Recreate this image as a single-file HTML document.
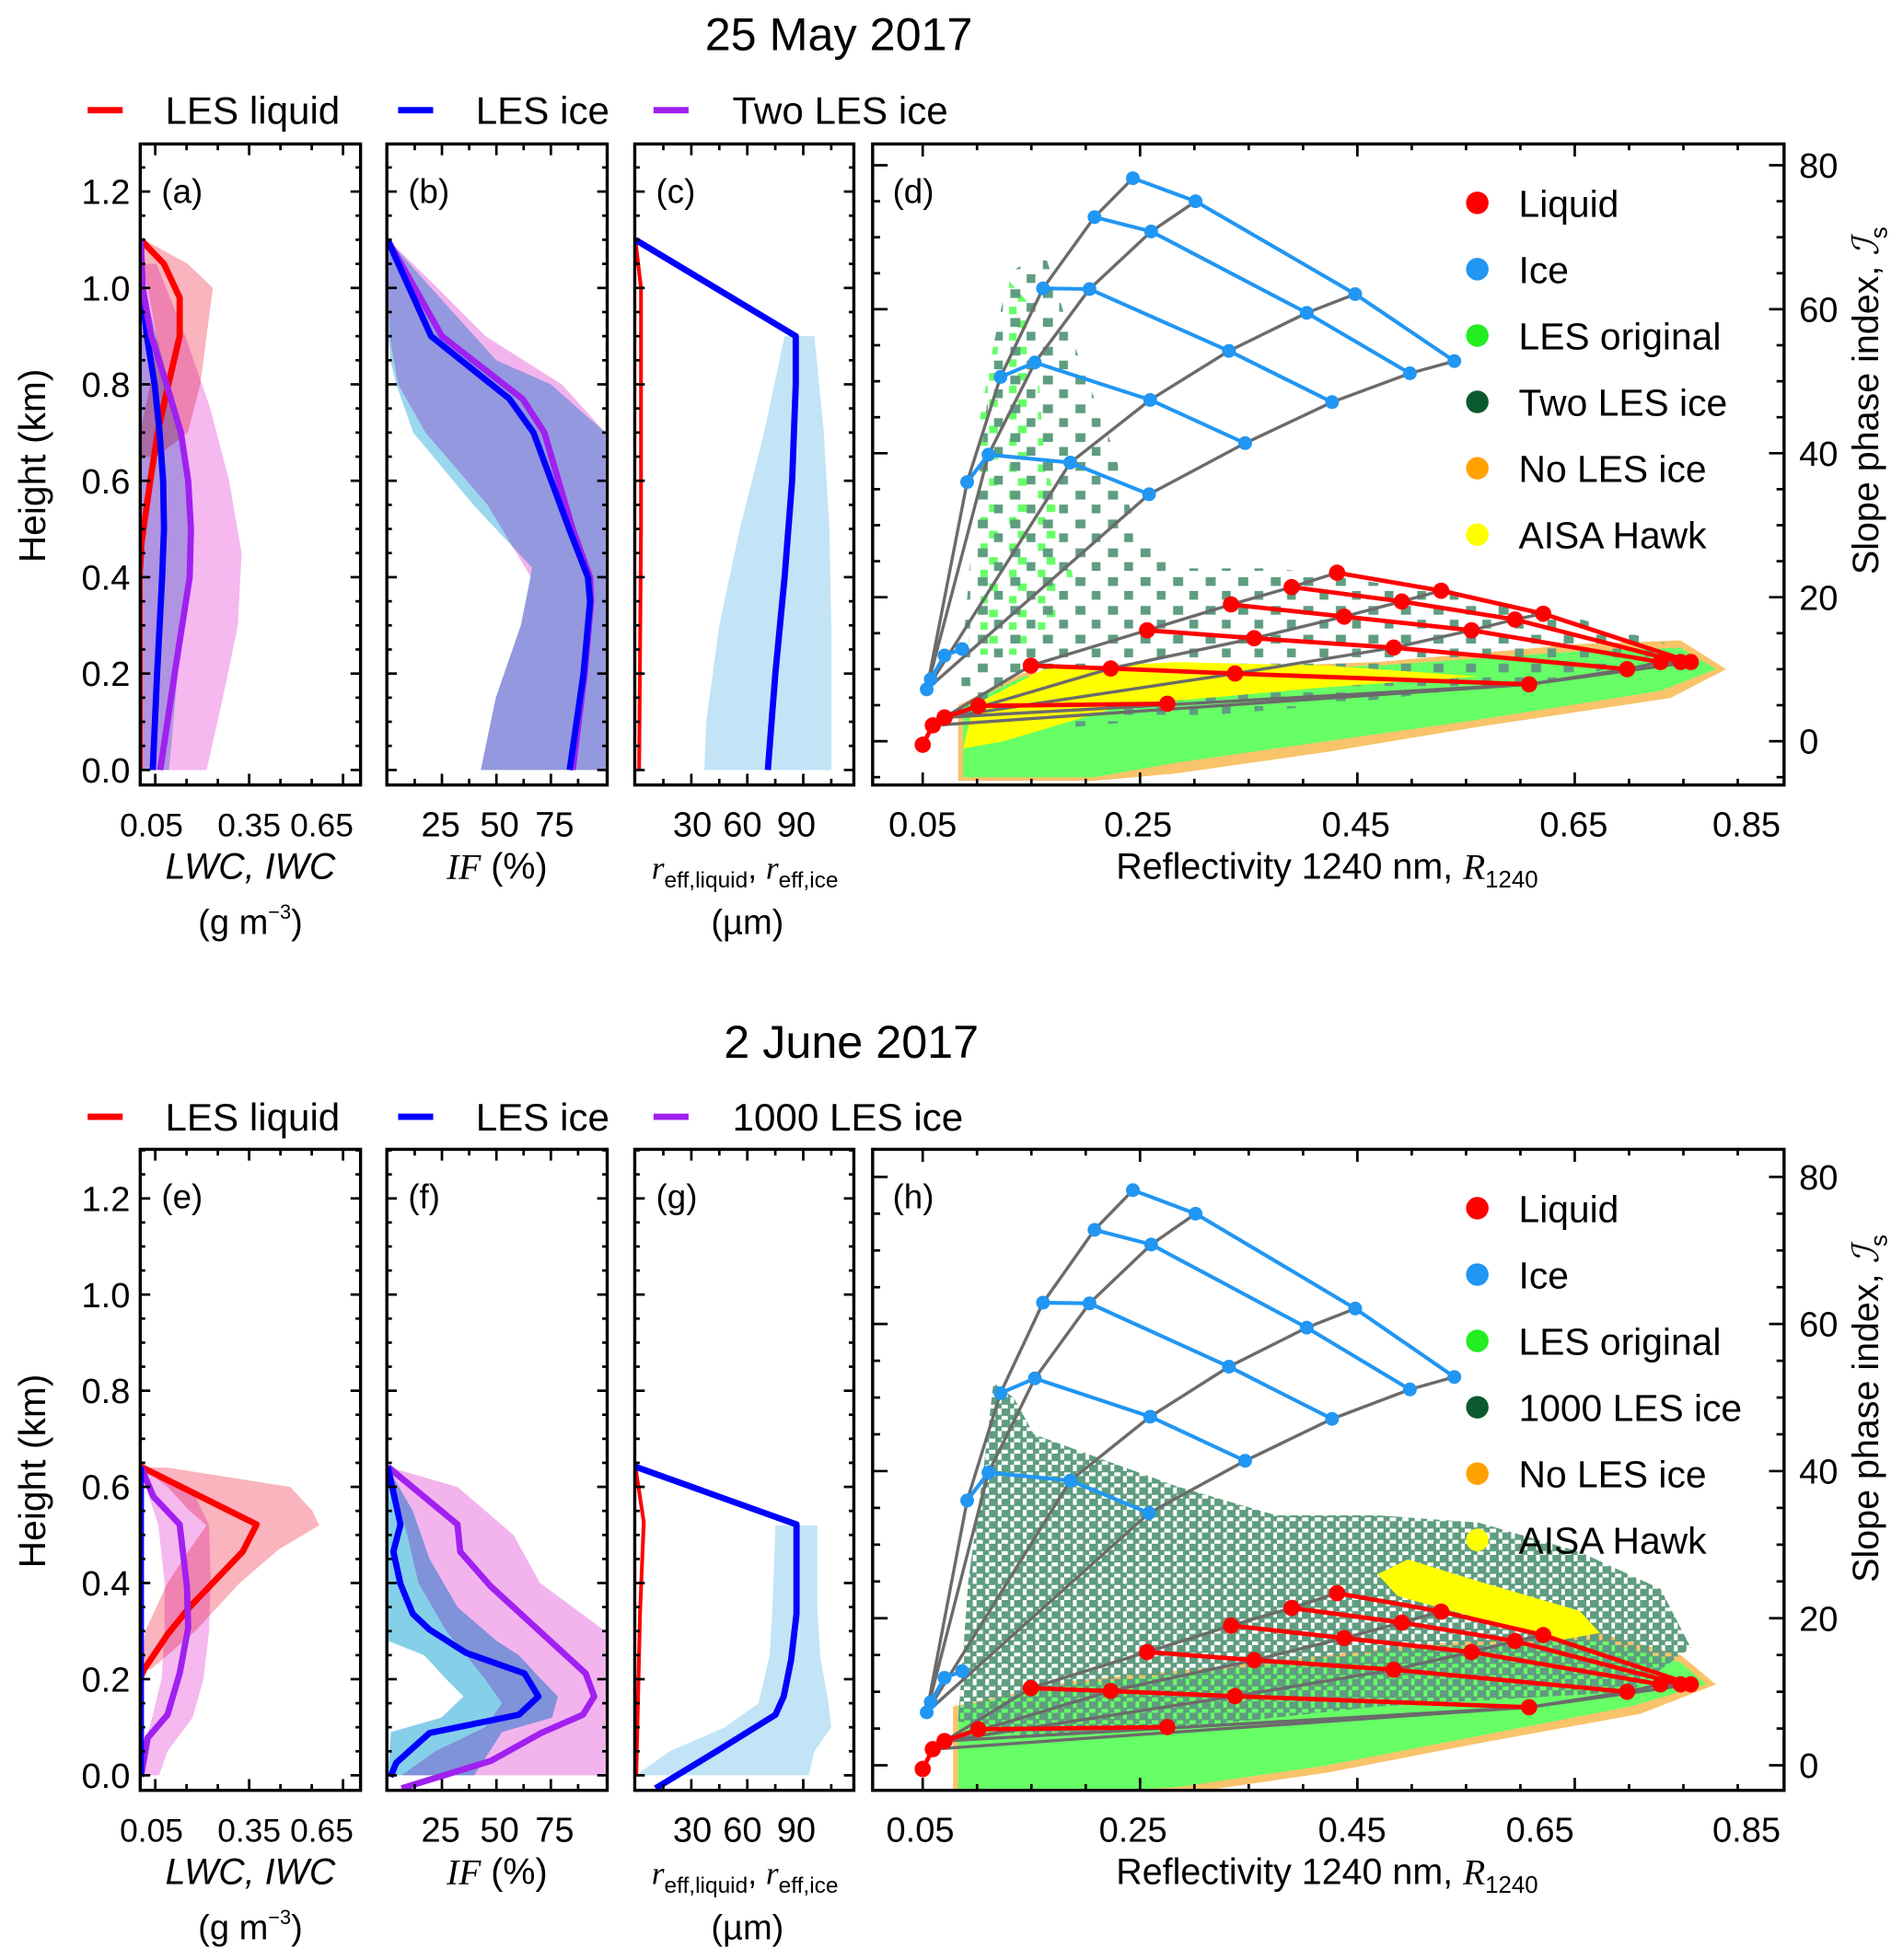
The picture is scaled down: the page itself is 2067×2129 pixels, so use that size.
<!DOCTYPE html>
<html><head><meta charset="utf-8"><title>25 May 2017 / 2 June 2017 profiles and slope phase index</title>
<style>
html,body{margin:0;padding:0;background:#fff;}
svg{display:block;}
text{font-family:"Liberation Sans",Arial,sans-serif;fill:#000;}
.band{mix-blend-mode:multiply;}
</style></head>
<body>
<svg id="chart" xmlns="http://www.w3.org/2000/svg" width="2067" height="2129" viewBox="0 0 1520 1565.5" preserveAspectRatio="none">
<defs>
<pattern id="pDark" width="26" height="23" patternUnits="userSpaceOnUse">
<rect x="1" y="1" width="8" height="7" fill="#5f9d80"/><rect x="14" y="12" width="7" height="7" fill="#5f9d80"/>
</pattern>
<pattern id="pDense" width="10" height="9" patternUnits="userSpaceOnUse">
<rect x="0" y="0" width="7" height="6" fill="#5f9d80"/><rect x="5" y="5" width="5" height="4" fill="#5f9d80"/>
</pattern>
<pattern id="pLight" width="23" height="21" patternUnits="userSpaceOnUse">
<rect x="8" y="4" width="7" height="6" fill="#66ff66"/><rect x="1" y="14" width="6" height="6" fill="#66ff66"/>
</pattern>
</defs>
<rect x="0" y="0" width="1520" height="1565.5" fill="#fff"/>

<text x="670" y="40" font-size="37" text-anchor="middle">25 May 2017</text>
<text x="680" y="845" font-size="37" text-anchor="middle">2 June 2017</text>

<g>
<line x1="70" y1="88" x2="98" y2="88" stroke="#ff0000" stroke-width="5"/>
<text x="132" y="99" font-size="31">LES liquid</text>
<line x1="318" y1="88" x2="346" y2="88" stroke="#0000ff" stroke-width="5"/>
<text x="380" y="99" font-size="31">LES ice</text>
<line x1="522" y1="88" x2="550" y2="88" stroke="#a020f0" stroke-width="5"/>
<text x="585" y="99" font-size="31">Two LES ice</text>
</g>
<g>
<line x1="70" y1="892" x2="98" y2="892" stroke="#ff0000" stroke-width="5"/>
<text x="132" y="903" font-size="31">LES liquid</text>
<line x1="318" y1="892" x2="346" y2="892" stroke="#0000ff" stroke-width="5"/>
<text x="380" y="903" font-size="31">LES ice</text>
<line x1="522" y1="892" x2="550" y2="892" stroke="#a020f0" stroke-width="5"/>
<text x="585" y="903" font-size="31">1000 LES ice</text>
</g>

<g id="plots"></g>

<text transform="translate(36,372) rotate(-90)" font-size="30" text-anchor="middle">Height (km)</text>
<text transform="translate(36,1175) rotate(-90)" font-size="30" text-anchor="middle">Height (km)</text>
<text transform="translate(1500,320) rotate(-90)" font-size="29" text-anchor="middle">Slope phase index, <tspan font-style="italic" font-family="DejaVu Serif, serif">ℐ</tspan><tspan font-size="19" dy="7">s</tspan></text>
<text transform="translate(1500,1125) rotate(-90)" font-size="29" text-anchor="middle">Slope phase index, <tspan font-style="italic" font-family="DejaVu Serif, serif">ℐ</tspan><tspan font-size="19" dy="7">s</tspan></text>

<g>
<text x="200" y="702" font-size="29" text-anchor="middle" font-style="italic" font-family="Liberation Serif, serif">LWC, IWC</text>
<text x="200" y="746" font-size="28" text-anchor="middle">(g m<tspan font-size="16" dy="-12">−3</tspan><tspan dy="12">)</tspan></text>
<text x="397" y="702" font-size="29" text-anchor="middle"><tspan font-style="italic" font-family="Liberation Serif, serif">IF</tspan> (%)</text>
<text x="595" y="702" font-size="26" text-anchor="middle"><tspan font-style="italic" font-family="Liberation Serif, serif">r</tspan><tspan font-size="18" dy="7">eff,liquid</tspan><tspan dy="-7">, </tspan><tspan font-style="italic" font-family="Liberation Serif, serif">r</tspan><tspan font-size="18" dy="7">eff,ice</tspan></text>
<text x="597" y="746" font-size="28" text-anchor="middle">(µm)</text>
<text x="1060" y="702" font-size="29" text-anchor="middle">Reflectivity 1240 nm, <tspan font-style="italic" font-family="Liberation Serif, serif">R</tspan><tspan font-size="19" dy="7">1240</tspan></text>
</g>
<g>
<text x="200" y="1505" font-size="29" text-anchor="middle" font-style="italic" font-family="Liberation Serif, serif">LWC, IWC</text>
<text x="200" y="1549" font-size="28" text-anchor="middle">(g m<tspan font-size="16" dy="-12">−3</tspan><tspan dy="12">)</tspan></text>
<text x="397" y="1505" font-size="29" text-anchor="middle"><tspan font-style="italic" font-family="Liberation Serif, serif">IF</tspan> (%)</text>
<text x="595" y="1505" font-size="26" text-anchor="middle"><tspan font-style="italic" font-family="Liberation Serif, serif">r</tspan><tspan font-size="18" dy="7">eff,liquid</tspan><tspan dy="-7">, </tspan><tspan font-style="italic" font-family="Liberation Serif, serif">r</tspan><tspan font-size="18" dy="7">eff,ice</tspan></text>
<text x="597" y="1549" font-size="28" text-anchor="middle">(µm)</text>
<text x="1060" y="1505" font-size="29" text-anchor="middle">Reflectivity 1240 nm, <tspan font-style="italic" font-family="Liberation Serif, serif">R</tspan><tspan font-size="19" dy="7">1240</tspan></text>
</g>
</svg>

<script>
// ===== Data: height profiles (25 May 2017) =====
const aLiqH = [1.1, 1.05, 0.98, 0.9, 0.8, 0.7, 0.6, 0.47, 0.4, 0.0];
const aLiqV = [0.004, 0.078, 0.128, 0.128, 0.092, 0.058, 0.034, 0.006, 0.0, 0.0];
const aIceH = [1.1, 1.0, 0.9, 0.8, 0.7, 0.6, 0.5, 0.4, 0.2, 0.0];
const aIceV = [0.004, 0.006, 0.023, 0.048, 0.064, 0.075, 0.078, 0.072, 0.056, 0.042];
const aTwoV = [0.004, 0.01, 0.037, 0.086, 0.132, 0.155, 0.164, 0.16, 0.112, 0.066];
const aPinkH = [1.05, 0.9, 0.75, 0.6, 0.45, 0.3, 0.15, 0.0];
const aPinkLo = [0.004, 0.004, 0.004, 0.004, 0.004, 0.004, 0.004, 0.004];
const aPinkHi = [0.054, 0.146, 0.226, 0.286, 0.326, 0.314, 0.266, 0.214];
const aRedH = [1.1, 1.05, 1.0, 0.9, 0.8, 0.7, 0.65];
const aRedLo = [0.002, 0.002, 0.026, 0.054, 0.034, 0.002, 0.002];
const aRedHi = [0.014, 0.154, 0.234, 0.214, 0.194, 0.154, 0.054];
const aBlueH = [1.0, 0.8, 0.6, 0.4, 0.2, 0.0];
const aBlueLo = [0.004, 0.004, 0.004, 0.004, 0.004, 0.004];
const aBlueHi = [0.014, 0.094, 0.154, 0.154, 0.122, 0.094];

const bIceH = [1.1, 0.9, 0.77, 0.7, 0.5, 0.4, 0.35, 0.2, 0.0];
const bIceV = [0, 20, 56, 67, 83.4, 92, 93, 90, 83.6];
const bTwoV = [0, 25, 62, 72, 85, 93, 93.5, 90.5, 85];
const bPinkH = [1.1, 1.0, 0.9, 0.8, 0.7, 0.55, 0.4, 0.3, 0.15, 0.0];
const bPinkLo = [0.3, 0.3, 0.9, 4.9, 17.5, 46, 65.8, 61.2, 49.7, 42.8];
const bPinkHi = [0.3, 23, 45, 80, 100, 100, 100, 100, 100, 100];
const bCyanH = [1.1, 1.0, 0.9, 0.85, 0.8, 0.7, 0.55, 0.42, 0.3, 0.15, 0.0];
const bCyanLo = [0.3, 0.3, 0.3, 1.4, 4, 11.8, 39.4, 66.4, 61.2, 49.7, 42.8];
const bCyanHi = [0.3, 20, 40, 50, 75, 100, 100, 100, 100, 100, 100];

const cIceH = [1.1, 0.9, 0.8, 0.6, 0.4, 0.2, 0.0];
const cIceV = [0, 86, 86, 84, 80, 75, 71];
const cLiqH = [1.1, 1.0, 0.8, 0.5, 0.0];
const cLiqV = [0, 3, 3, 3, 2];
const cBandH = [0.9, 0.7, 0.5, 0.3, 0.1, 0.0];
const cBandLo = [80, 69, 56, 45, 38, 37];
const cBandHi = [96, 101, 104, 105, 105, 105];

// ===== Data: height profiles (2 June 2017) =====
const eLiqH = [0.642, 0.522, 0.465, 0.35, 0.293, 0.22, 0.2, 0.0];
const eLiqV = [0.004, 0.374, 0.329, 0.16, 0.089, 0.014, 0.0, 0.0];
const eIceH = [0.642, 0.0];
const eIceV = [0.004, 0.004];
const eThoV = [0.004, 0.044, 0.128, 0.151, 0.155, 0.128, 0.089, 0.026, 0.004];
const eThoH = [0.642, 0.58, 0.522, 0.393, 0.307, 0.212, 0.126, 0.078, -0.003];
const ePinkH = [0.64, 0.58, 0.52, 0.4, 0.3, 0.2, 0.12, 0.05, 0.0];
const ePinkLo = [0.0, 0.03, 0.06, 0.08, 0.08, 0.07, 0.04, 0.01, 0.0];
const ePinkHi = [0.01, 0.178, 0.222, 0.227, 0.222, 0.204, 0.169, 0.089, 0.062];
const eRedH = [0.64, 0.6, 0.55, 0.52, 0.47, 0.4, 0.3, 0.22];
const eRedLo = [0.008, 0.089, 0.16, 0.214, 0.16, 0.089, 0.018, 0.008];
const eRedHi = [0.089, 0.481, 0.552, 0.574, 0.445, 0.32, 0.178, 0.035];

const fIceH = [0.642, 0.522, 0.465, 0.398, 0.336, 0.303, 0.255, 0.212, 0.164, 0.126, 0.088, 0.026, -0.003];
const fIceV = [0.1, 6, 2.7, 6, 11.6, 19.3, 36, 62.9, 69.3, 60.3, 19.3, 4, 1.4];
const fThoH = [0.642, 0.522, 0.465, 0.393, 0.212, 0.164, 0.126, 0.088, 0.03, -0.027];
const fThoV = [0.1, 32.1, 33.4, 47.4, 91, 94.9, 89.7, 70.5, 47.4, 6.5];
const fCyanH = [0.64, 0.55, 0.45, 0.35, 0.28, 0.25, 0.2, 0.164, 0.12, 0.09, 0.0];
const fCyanLo = [0.1, 0.1, 0.1, 0.1, 0.1, 16.8, 27, 34.9, 24.7, 1.6, 0.1];
const fCyanHi = [0.1, 11.6, 19.3, 32.1, 50, 60.3, 70.5, 78.2, 75.6, 52.6, 39.8];
const fPinkH = [0.64, 0.6, 0.5, 0.4, 0.3, 0.2, 0.15, 0.1, 0.05, 0.0];
const fPinkLo = [0.1, 3, 9.1, 14.2, 27, 44.9, 52.6, 44.9, 21.9, 6.5];
const fPinkHi = [1.4, 32.1, 57.8, 70, 100, 100, 100, 100, 100, 100];

const gIceH = [0.642, 0.522, 0.336, 0.24, 0.164, 0.126, 0.054, -0.027];
const gIceV = [0, 86.4, 86.4, 83.5, 79.5, 75.1, 45.2, 10.8];
const gLiqH = [0.642, 0.527, 0.336, 0.0];
const gLiqV = [0, 4.5, 2.5, 0.5];
const gBandH = [0.52, 0.35, 0.25, 0.15, 0.1, 0.05, 0.0];
const gBandLo = [75.1, 73.5, 72, 66, 48, 18.3, 0.3];
const gBandHi = [97.5, 97.5, 99, 103.5, 105, 96, 93];

// ===== Data: reflectivity / slope phase index lookup tables =====
const iceRow0 = [[0.0537, 7.2], [0.0574, 8.6], [0.0701, 11.9], [0.0863, 12.8]];
const iceRow1 = [[0.0909, 36], [0.1105, 39.8], [0.1858, 38.7], [0.2583, 34.3]];
const iceRow2 = [[0.1216, 50.6], [0.1532, 52.6], [0.2593, 47.4], [0.3467, 41.4]];
const iceRow3 = [[0.1607, 62.9], [0.2035, 62.8], [0.3318, 54.2], [0.4267, 47.1]];
const iceRow4 = [[0.2081, 72.8], [0.2602, 70.8], [0.4034, 59.5], [0.4983, 51.1]];
const iceRow5 = [[0.2434, 78.2], [0.3011, 75], [0.448, 62.1], [0.5392, 52.8]];
const liqBase = [[0.05, -0.5], [0.0593, 2.2], [0.0701, 3.3], [0.1012, 4.9], [0.2751, 5.2]];
const liqRow1 = [[0.1495, 10.5], [0.223, 10.1], [0.3374, 9.4], [0.608, 7.9]];
const liqRow2 = [[0.2565, 15.4], [0.355, 14.3], [0.4834, 13], [0.6982, 10]];
const liqRow3 = [[0.3337, 19], [0.4378, 17.3], [0.555, 15.4], [0.7289, 11]];
const liqRow4 = [[0.3895, 21.4], [0.4908, 19.4], [0.595, 16.9], [0.7475, 11]];
const liqRow5 = [[0.4313, 23.4], [0.5271, 20.9], [0.621, 17.7], [0.7568, 11]];

// Point-cloud outlines (R1240, slope index)
const dOrange = [[0.0826,-5.5],[0.0826,5],[0.143,9.5],[0.2825,10],[0.4685,11],[0.6545,13.5],[0.7475,14],[0.7894,10],[0.7382,6],[0.5615,2],[0.422,-1.5],[0.2825,-4.5],[0.2081,-5.5]];
const dGreen = [[0.0872,-5],[0.0872,5],[0.143,9],[0.2825,9.5],[0.4685,10.5],[0.6545,12.5],[0.7475,13],[0.78,10],[0.7289,7],[0.5615,3],[0.422,0],[0.2825,-3],[0.2081,-5]];
const dYellow = [[0.0872,-1],[0.0965,5],[0.1616,10],[0.2825,11],[0.422,10.5],[0.5615,9],[0.422,7.5],[0.236,5],[0.1244,0]];
const dDark = [[0.0826,5],[0.0965,30],[0.1151,55],[0.129,65],[0.1616,68],[0.1895,55],[0.2267,40],[0.2453,30],[0.2825,24],[0.3755,24],[0.515,21],[0.6545,17],[0.7475,13],[0.6545,9],[0.422,5],[0.1895,2]];
const dLight = [[0.0919,12],[0.0965,40],[0.1151,55],[0.129,64],[0.1523,60],[0.1616,40],[0.1895,22],[0.1523,12]];
const hOrange = [[0.0779,-4.5],[0.0779,8],[0.1895,11.5],[0.329,13.5],[0.515,16.5],[0.6731,18],[0.7475,15],[0.78,11],[0.7103,7],[0.5615,3],[0.422,-1],[0.2825,-4],[0.143,-4.5]];
const hGreen = [[0.0826,-4],[0.0826,8],[0.1895,11],[0.329,13],[0.515,16],[0.6731,17],[0.7475,14],[0.7708,11],[0.701,8],[0.5615,4],[0.422,0],[0.2825,-3],[0.143,-4]];
const hDark = [[0.0826,6],[0.0919,25],[0.1058,40],[0.1151,52],[0.1337,50],[0.1523,45],[0.2081,42],[0.2825,38],[0.3755,34],[0.4685,34],[0.5615,33],[0.6545,29],[0.7289,24],[0.7568,16],[0.701,10],[0.4685,8],[0.2825,5],[0.143,4]];
const hDarkCore = [[0.2639,18],[0.329,25],[0.422,30],[0.5615,30],[0.6731,26],[0.7382,19],[0.7289,13],[0.5615,15],[0.3755,14]];
const hYellow = [[0.4685,26],[0.4964,28],[0.5615,25],[0.6545,21],[0.6731,18],[0.6359,17],[0.5615,20],[0.4871,23]];

// Tick label arrays
const heightTicks = [0.0, 0.2, 0.4, 0.6, 0.8, 1.0, 1.2];
const lwcTicks = [0.05, 0.35, 0.65];
const ifTicks = [25, 50, 75];
const reffTicks = [30, 60, 90];
const reflTicks = [0.05, 0.25, 0.45, 0.65, 0.85];
const slopeTicks = [0, 20, 40, 60, 80];

// ===== Drawing =====
const NS = 'http://www.w3.org/2000/svg';
const root = document.getElementById('plots');
function add(parent, tag, attrs, name) {
  const e = document.createElementNS(NS, tag);
  for (const k in attrs) e.setAttribute(k, attrs[k]);
  
  
  parent.appendChild(e);
  return e;
}
function pts(arr) { return arr.map(p => p[0].toFixed(1) + ',' + p[1].toFixed(1)).join(' '); }

const xA = v => 124 + (v - 0.05) * 250;
const xB = v => 309.5 + v * 1.74;
const xC = v => 507.5 + v * 1.49;
const xD = v => 737 + (v - 0.05) * 868;

function makeBlock(yb, k, y0, y1, tag) {
  const yH = h => yb - h * k;
  const panels = [
    {x0: 112, x1: 288, xf: xA, ticks: lwcTicks, minor: [0.15,0.25,0.45,0.55], labels: lwcTicks.map(String), labelPos: [121, 199, 257], id: 'lwc'},
    {x0: 309, x1: 485, xf: xB, ticks: ifTicks, minor: [12.5,37.5,62.5,87.5], labels: ifTicks.map(String), labelPos: [352, 399, 443], id: 'if'},
    {x0: 507, x1: 682, xf: xC, ticks: reffTicks, minor: [15,45,75,105], labels: reffTicks.map(String), labelPos: [553, 593, 636], id: 'reff'}
  ];
  const g = add(root, 'g', {}, 'block-' + tag);
  panels.forEach((P) => {
    const pg = add(g, 'g', {}, 'panel-' + P.id + '-' + tag);
    const cid = 'clip-' + P.id + '-' + tag;
    const cp = add(pg, 'clipPath', {id: cid}, 'clip');
    add(cp, 'rect', {x: P.x0, y: y0, width: P.x1 - P.x0, height: y1 - y0}, 'clip-rect');
    P.g = add(pg, 'g', {'clip-path': 'url(#' + cid + ')'}, 'plot-area-' + P.id + '-' + tag);
    P.frame = pg;
    P.yH = yH;
  });
  return {panels, yH, g, y0, y1};
}
function band(P, H, lo, hi, fill, name) {
  const a = H.map((h, i) => [P.xf(hi[i]), P.yH(h)]);
  const b = H.map((h, i) => [P.xf(lo[i]), P.yH(h)]).reverse();
  add(P.g, 'polygon', {points: pts(a.concat(b)), fill: fill, class: 'band'}, name);
}
function curve(P, H, V, color, name, w) {
  add(P.g, 'polyline', {points: pts(H.map((h, i) => [P.xf(V[i]), P.yH(h)])), fill: 'none', stroke: color, 'stroke-width': w || 5, 'stroke-linejoin': 'round'}, name);
}
function frameAndTicks(B, letters) {
  const {panels, yH, y0, y1} = B;
  panels.forEach((P, i) => {
    const f = P.frame;
    add(f, 'rect', {x: P.x0, y: y0, width: P.x1 - P.x0, height: y1 - y0, fill: 'none', stroke: '#000', 'stroke-width': 2.5}, 'panel-frame');
    for (let h = 0; h <= 1.3001; h += 0.05) {
      const major = Math.abs(h / 0.2 - Math.round(h / 0.2)) < 1e-6;
      const L = major ? 8 : 4;
      const y = yH(h);
      if (y < y0 || y > y1) continue;
      add(f, 'line', {x1: P.x0, y1: y, x2: P.x0 + L, y2: y, stroke: '#000', 'stroke-width': 2}, 'y-tick');
      add(f, 'line', {x1: P.x1, y1: y, x2: P.x1 - L, y2: y, stroke: '#000', 'stroke-width': 2}, 'y-tick');
    }
    P.ticks.forEach(t => {
      const x = P.xf(t);
      add(f, 'line', {x1: x, y1: y1, x2: x, y2: y1 - 9, stroke: '#000', 'stroke-width': 2}, 'x-tick');
      add(f, 'line', {x1: x, y1: y0, x2: x, y2: y0 + 9, stroke: '#000', 'stroke-width': 2}, 'x-tick');
    });
    P.minor.forEach(t => {
      const x = P.xf(t);
      if (x > P.x1) return;
      add(f, 'line', {x1: x, y1: y1, x2: x, y2: y1 - 5, stroke: '#000', 'stroke-width': 2}, 'x-minor-tick');
      add(f, 'line', {x1: x, y1: y0, x2: x, y2: y0 + 5, stroke: '#000', 'stroke-width': 2}, 'x-minor-tick');
    });
    P.labels.forEach((lab, j) => {
      const t = add(f, 'text', {x: P.labelPos[j], y: y1 + 41, 'font-size': i === 0 ? 26 : 28, 'text-anchor': 'middle'}, 'x-tick-label');
      t.textContent = lab;
    });
    const pl = add(f, 'text', {x: P.x0 + 17, y: y0 + 47, 'font-size': 27}, 'panel-label');
    pl.textContent = letters[i];
  });
  heightTicks.forEach(h => {
    const t = add(B.g, 'text', {x: 104, y: yH(h) + 10, 'font-size': 28, 'text-anchor': 'end'}, 'y-tick-label-height');
    t.textContent = h.toFixed(1);
  });
}

// ---- Top block ----
const T = makeBlock(615, 385, 115, 627, 'top');
band(T.panels[0], aRedH, aRedLo, aRedHi, '#f9b4bd', 'band-a-liquid');
band(T.panels[0], aPinkH, aPinkLo, aPinkHi, '#f5b8ef', 'band-a-two-les-ice');
band(T.panels[0], aBlueH, aBlueLo, aBlueHi, '#b7cdf0', 'band-a-les-ice');
curve(T.panels[0], aLiqH, aLiqV, '#ff0000', 'line-a-les-liquid');
curve(T.panels[0], aIceH, aIceV, '#0000ff', 'line-a-les-ice');
curve(T.panels[0], aIceH, aTwoV, '#a020f0', 'line-a-two-les-ice');
band(T.panels[1], bPinkH, bPinkLo, bPinkHi, '#f3b4ee', 'band-b-two-les-ice');
band(T.panels[1], bCyanH, bCyanLo, bCyanHi, '#9bd8ee', 'band-b-les-ice');
curve(T.panels[1], bIceH, bTwoV, '#a020f0', 'line-b-two-les-ice');
curve(T.panels[1], bIceH, bIceV, '#0000ff', 'line-b-les-ice');
band(T.panels[2], cBandH, cBandLo, cBandHi, '#c2e4f6', 'band-c-les-ice');
curve(T.panels[2], cLiqH, cLiqV, '#ff0000', 'line-c-les-liquid', 3);
curve(T.panels[2], cIceH, cIceV, '#0000ff', 'line-c-les-ice');
frameAndTicks(T, ['(a)', '(b)', '(c)']);

// ---- Bottom block ----
const Bm = makeBlock(1418, 384, 918, 1430, 'bottom');
band(Bm.panels[0], eRedH, eRedLo, eRedHi, '#f9b4bd', 'band-e-liquid');
band(Bm.panels[0], ePinkH, ePinkLo, ePinkHi, '#f5b8ef', 'band-e-1000-les-ice');
curve(Bm.panels[0], eLiqH, eLiqV, '#ff0000', 'line-e-les-liquid');
curve(Bm.panels[0], eThoH, eThoV, '#a020f0', 'line-e-1000-les-ice');
curve(Bm.panels[0], eIceH, eIceV, '#0000ff', 'line-e-les-ice');
band(Bm.panels[1], fPinkH, fPinkLo, fPinkHi, '#f3b4ee', 'band-f-1000-les-ice');
band(Bm.panels[1], fCyanH, fCyanLo, fCyanHi, '#86cfe9', 'band-f-les-ice');
curve(Bm.panels[1], fThoH, fThoV, '#a020f0', 'line-f-1000-les-ice');
curve(Bm.panels[1], fIceH, fIceV, '#0000ff', 'line-f-les-ice');
band(Bm.panels[2], gBandH, gBandLo, gBandHi, '#c2e4f6', 'band-g-les-ice');
curve(Bm.panels[2], gLiqH, gLiqV, '#ff0000', 'line-g-les-liquid', 3);
curve(Bm.panels[2], gIceH, gIceV, '#0000ff', 'line-g-les-ice');
frameAndTicks(Bm, ['(e)', '(f)', '(g)']);

// ---- Scatter panels ----
function scatterPanel(y0, y1, ys, clouds, letter, tag, legendLabels, labelPos) {
  const x0 = 697, x1 = 1425;
  const g = add(root, 'g', {}, 'panel-reflectivity-' + tag);
  const cid = 'clip-d-' + tag;
  const cp = add(g, 'clipPath', {id: cid}, 'clip');
  add(cp, 'rect', {x: x0, y: y0, width: x1 - x0, height: y1 - y0}, 'clip-rect');
  const pg = add(g, 'g', {'clip-path': 'url(#' + cid + ')'}, 'plot-area-reflectivity-' + tag);
  const P = arr => pts(arr.map(p => [xD(p[0]), ys(p[1])]));
  clouds.forEach(c => add(pg, 'polygon', {points: P(c.d), fill: c.fill}, c.name));
  const iceRows = [iceRow0, iceRow1, iceRow2, iceRow3, iceRow4, iceRow5];
  for (let j = 0; j < 4; j++) {
    const col = [iceRow0[0]].concat(iceRows.slice(1).map(r => r[j]));
    add(pg, 'polyline', {points: P(col), fill: 'none', stroke: '#6b6b6b', 'stroke-width': 2.5}, 'ice-lut-spoke');
  }
  const liqRows = [liqRow1, liqRow2, liqRow3, liqRow4, liqRow5];
  for (let j = 0; j < 4; j++) {
    const col = [liqBase[2]].concat(liqRows.map(r => r[j]));
    add(pg, 'polyline', {points: P(col), fill: 'none', stroke: '#6b6b6b', 'stroke-width': 2.5}, 'liquid-lut-spoke');
  }
  add(pg, 'polyline', {points: P([liqBase[1], liqRow1[3], liqRow5[3]]), fill: 'none', stroke: '#6b6b6b', 'stroke-width': 2.5}, 'liquid-lut-spoke');
  iceRows.forEach(r => {
    add(pg, 'polyline', {points: P(r), fill: 'none', stroke: '#2196f3', 'stroke-width': 3}, 'ice-lut-line');
  });
  add(pg, 'polyline', {points: P(liqBase), fill: 'none', stroke: '#ff0000', 'stroke-width': 3.5}, 'liquid-lut-line');
  liqRows.forEach(r => {
    add(pg, 'polyline', {points: P(r), fill: 'none', stroke: '#ff0000', 'stroke-width': 3.5}, 'liquid-lut-line');
  });
  iceRows.forEach(r => r.forEach(p => {
    add(pg, 'circle', {cx: xD(p[0]), cy: ys(p[1]), r: 5.5, fill: '#2196f3'}, 'ice-point');
  }));
  liqBase.concat(liqRow1, liqRow2, liqRow3, liqRow4, liqRow5).forEach(p => {
    add(pg, 'circle', {cx: xD(p[0]), cy: ys(p[1]), r: 6.5, fill: '#ff0000'}, 'liquid-point');
  });
  add(g, 'rect', {x: x0, y: y0, width: x1 - x0, height: y1 - y0, fill: 'none', stroke: '#000', 'stroke-width': 2.5}, 'panel-frame');
  for (let v = 0.05; v < 0.9; v += 0.05) {
    const x = xD(v);
    if (x >= x1) break;
    const major = Math.abs((v - 0.05) / 0.2 - Math.round((v - 0.05) / 0.2)) < 1e-6;
    const L = major ? 10 : 5;
    add(g, 'line', {x1: x, y1: y1, x2: x, y2: y1 - L, stroke: '#000', 'stroke-width': 2}, 'x-tick');
    add(g, 'line', {x1: x, y1: y0, x2: x, y2: y0 + L, stroke: '#000', 'stroke-width': 2}, 'x-tick');
  }
  for (let s = -5; s <= 85; s += 5) {
    const y = ys(s);
    if (y < y0 || y > y1) continue;
    const L = (s % 20 === 0) ? 12 : 6;
    add(g, 'line', {x1: x0, y1: y, x2: x0 + L, y2: y, stroke: '#000', 'stroke-width': 2}, 'y-tick');
    add(g, 'line', {x1: x1, y1: y, x2: x1 - L, y2: y, stroke: '#000', 'stroke-width': 2}, 'y-tick');
  }
  reflTicks.forEach((v, i) => {
    const t = add(g, 'text', {x: labelPos[i], y: y1 + 41, 'font-size': 28, 'text-anchor': 'middle'}, 'x-tick-label-reflectivity');
    t.textContent = v.toFixed(2);
  });
  slopeTicks.forEach(s => {
    const t = add(g, 'text', {x: 1437, y: ys(s) + 10, 'font-size': 28}, 'y-tick-label-slope');
    t.textContent = String(s);
  });
  const pl = add(g, 'text', {x: 713, y: y0 + 47, 'font-size': 27}, 'panel-label');
  pl.textContent = letter;
  const lcol = ['#ff0000', '#2196f3', '#22ee22', '#0b5a2e', '#ffa200', '#ffff00'];
  const lg = add(g, 'g', {}, 'legend-scatter-' + tag);
  legendLabels.forEach((lab, i) => {
    const yy = y0 + 47 + i * 53;
    add(lg, 'circle', {cx: 1180, cy: yy, r: 9, fill: lcol[i]}, 'legend-dot');
    const t = add(lg, 'text', {x: 1213, y: yy + 11, 'font-size': 30}, 'legend-label');
    t.textContent = lab;
  });
}
const ysTop = s => 592 - s * 5.75;
const ysBot = s => 1410 - s * 5.875;
scatterPanel(115, 627, ysTop, [
  {d: dOrange, fill: '#f9c36a', name: 'cloud-no-les-ice'},
  {d: dGreen, fill: '#66ff66', name: 'cloud-les-original'},
  {d: dLight, fill: 'url(#pLight)', name: 'cloud-les-original-sparse'},
  {d: dDark, fill: 'url(#pDark)', name: 'cloud-two-les-ice'},
  {d: dYellow, fill: '#ffff00', name: 'cloud-aisa-hawk'}
], '(d)', 'top', ['Liquid', 'Ice', 'LES original', 'Two LES ice', 'No LES ice', 'AISA Hawk'], [737, 909, 1083, 1257, 1395]);
scatterPanel(918, 1430, ysBot, [
  {d: hOrange, fill: '#f9c36a', name: 'cloud-no-les-ice'},
  {d: hGreen, fill: '#66ff66', name: 'cloud-les-original'},
  {d: hDark, fill: 'url(#pDense)', name: 'cloud-1000-les-ice'},
  {d: hDarkCore, fill: 'url(#pDense)', name: 'cloud-1000-les-ice-core'},
  {d: hYellow, fill: '#ffff00', name: 'cloud-aisa-hawk'}
], '(h)', 'bottom', ['Liquid', 'Ice', 'LES original', '1000 LES ice', 'No LES ice', 'AISA Hawk'], [735, 905, 1080, 1230, 1395]);
</script>
</body></html>
